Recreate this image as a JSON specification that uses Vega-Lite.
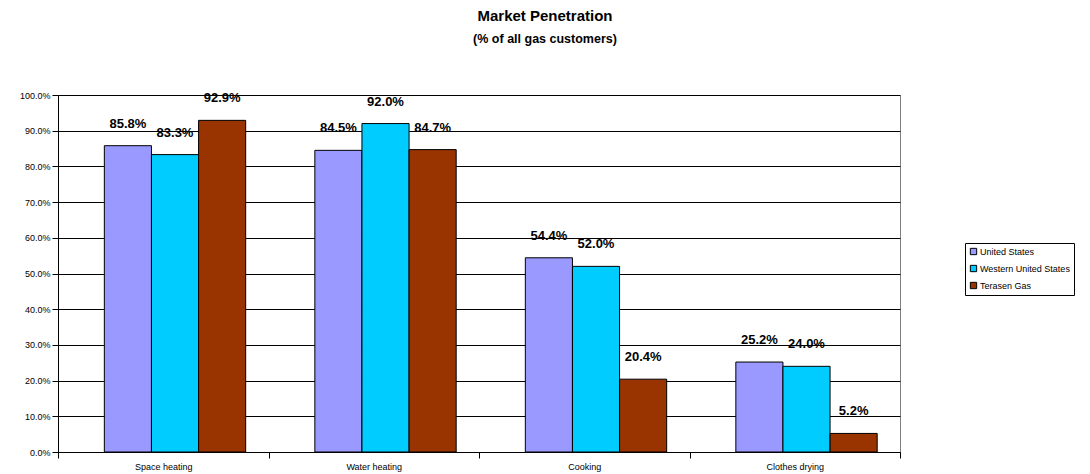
{
  "$schema": "https://vega.github.io/schema/vega-lite/v6.json",
  "autosize": "none",
  "width": 842,
  "height": 357,
  "padding": {"left": 58, "top": 95, "right": 190, "bottom": 22},
  "background": "white",
  "config": {
    "font": "Liberation Sans",
    "view": {"stroke": "#808080", "strokeWidth": 1}
  },
  "title": {
    "text": "Market Penetration",
    "subtitle": "(% of all gas customers)",
    "fontSize": 15,
    "fontWeight": "bold",
    "subtitleFontSize": 12.5,
    "subtitleFontWeight": "bold",
    "subtitleColor": "black",
    "color": "black",
    "subtitlePadding": 9,
    "anchor": "middle",
    "frame": "group",
    "offset": 46,
    "dx": 66
  },
  "data": {
    "values": [
      {"category": "Space heating", "series": "United States", "value": 0.858},
      {"category": "Space heating", "series": "Western United States", "value": 0.833},
      {"category": "Space heating", "series": "Terasen Gas", "value": 0.929},
      {"category": "Water heating", "series": "United States", "value": 0.845},
      {"category": "Water heating", "series": "Western United States", "value": 0.920},
      {"category": "Water heating", "series": "Terasen Gas", "value": 0.847},
      {"category": "Cooking", "series": "United States", "value": 0.544},
      {"category": "Cooking", "series": "Western United States", "value": 0.520},
      {"category": "Cooking", "series": "Terasen Gas", "value": 0.204},
      {"category": "Clothes drying", "series": "United States", "value": 0.252},
      {"category": "Clothes drying", "series": "Western United States", "value": 0.240},
      {"category": "Clothes drying", "series": "Terasen Gas", "value": 0.052}
    ]
  },
  "encoding": {
    "x": {
      "field": "category",
      "type": "nominal",
      "sort": ["Space heating", "Water heating", "Cooking", "Clothes drying"],
      "scale": {"paddingInner": 0, "paddingOuter": 0},
      "axis": {
        "title": null,
        "labelAngle": 0,
        "labelFontSize": 9,
        "labelColor": "black",
        "domainColor": "black",
        "tickColor": "black",
        "tickSize": 6,
        "tickBand": "extent",
        "labelPadding": 4
      }
    },
    "xOffset": {
      "field": "series",
      "type": "nominal",
      "sort": ["United States", "Western United States", "Terasen Gas"],
      "scale": {"paddingInner": 0, "paddingOuter": 0.734, "align": 0.67}
    },
    "y": {
      "field": "value",
      "type": "quantitative",
      "scale": {"domain": [0, 1], "nice": false},
      "axis": {
        "title": null,
        "format": ".1%",
        "values": [0, 0.1, 0.2, 0.3, 0.4, 0.5, 0.6, 0.7, 0.8, 0.9, 1.0],
        "labelFontSize": 9,
        "labelColor": "black",
        "domainColor": "black",
        "tickColor": "black",
        "tickSize": 6,
        "grid": true,
        "gridColor": "black",
        "gridOpacity": 1,
        "gridWidth": 1
      }
    }
  },
  "layer": [
    {
      "mark": {"type": "bar", "stroke": "black", "strokeWidth": 1},
      "encoding": {
        "color": {
          "field": "series",
          "type": "nominal",
          "scale": {
            "domain": ["United States", "Western United States", "Terasen Gas"],
            "range": ["#9999FF", "#00CCFF", "#993300"]
          },
          "legend": {
            "title": null,
            "orient": "none",
            "legendX": 907,
            "legendY": 148,
            "symbolType": "square",
            "symbolSize": 40,
            "symbolStrokeColor": "black",
            "symbolStrokeWidth": 1,
            "labelFontSize": 9,
            "labelColor": "black",
            "rowPadding": 6,
            "strokeColor": "black",
            "padding": 4,
            "labelOffset": 2
          }
        }
      }
    },
    {
      "mark": {"type": "text", "fontWeight": "bold", "fontSize": 13, "baseline": "bottom", "dy": -15, "color": "black"},
      "encoding": {
        "text": {"field": "value", "type": "quantitative", "format": ".1%"}
      }
    }
  ]
}
